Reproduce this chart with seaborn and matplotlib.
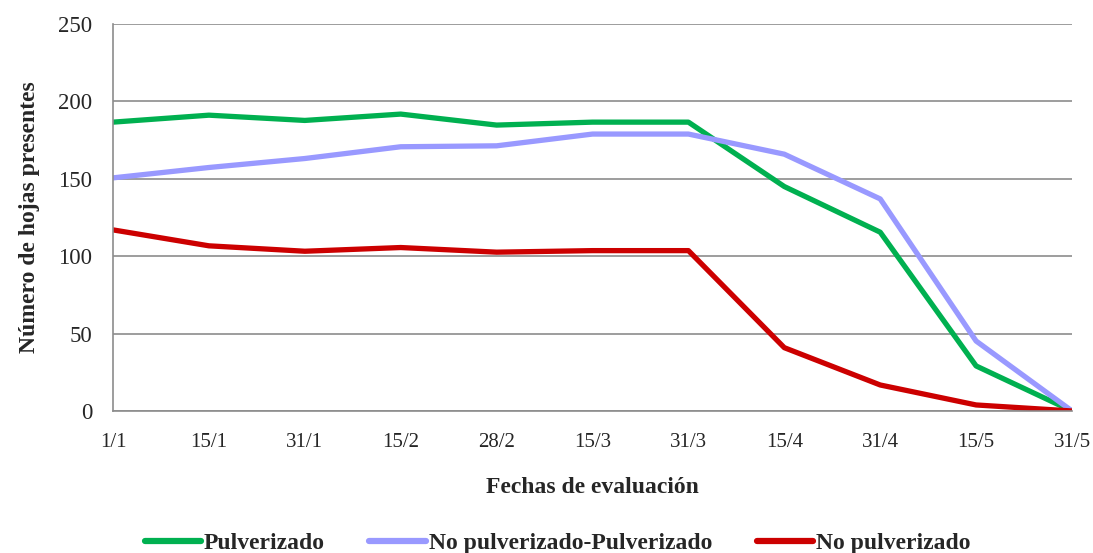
import numpy as np
import pandas as pd
import matplotlib.pyplot as plt
import seaborn as sns

# Fechas de evaluación
fechas = ['1/1', '15/1', '31/1', '15/2', '28/2', '15/3', '31/3', '15/4', '31/4', '15/5', '31/5']

# Número de hojas presentes por tratamiento
pulverizado = [186.6, 191.1, 187.7, 191.8, 184.7, 186.6, 186.6, 145.0, 115.5, 29.1, 0]
no_pulv_pulv = [150.6, 157.3, 163.1, 170.7, 171.3, 178.9, 178.9, 165.9, 137.0, 45.2, 0]
no_pulverizado = [117.0, 106.7, 103.2, 105.6, 102.6, 103.6, 103.6, 40.9, 16.8, 3.9, 0]

series = ['Pulverizado', 'No pulverizado-Pulverizado', 'No pulverizado']
colores = ['#00B050', '#9999FF', '#CC0000']

df = pd.DataFrame({
    'fecha': fechas * 3,
    'hojas': pulverizado + no_pulv_pulv + no_pulverizado,
    'serie': np.repeat(series, len(fechas)),
})

sns.set_style('white')
plt.rcParams['font.family'] = ['Liberation Serif', 'DejaVu Serif']

fig = plt.figure(figsize=(10.93, 5.53), dpi=100)
ax = fig.add_axes([0.1034, 0.2568, 0.8774, 0.6998])

sns.lineplot(data=df, x='fecha', y='hojas', hue='serie', hue_order=series,
             palette=colores, sort=False, linewidth=3.8, ax=ax, legend=False)

ax.set_xlim(0, len(fechas) - 1)
ax.set_ylim(0, 250)
ax.set_yticks(range(0, 251, 50))
ax.yaxis.grid(True, color='#8c8c8c', linewidth=1.2)
ax.set_axisbelow(True)

for s in ['top', 'right']:
    ax.spines[s].set_visible(False)
for s in ['left', 'bottom']:
    ax.spines[s].set_color('#8c8c8c')
    ax.spines[s].set_linewidth(1.2)

ax.tick_params(axis='y', direction='out', length=5, width=1.2,
               color='#8c8c8c', labelsize=16.5, pad=10)
ax.tick_params(axis='x', direction='out', length=4, width=1.2,
               color='#8c8c8c', labelsize=15, pad=12)

ax.set_xlabel('Fechas de evaluación', fontsize=17, fontweight='bold', labelpad=18)
ax.set_ylabel('Número de hojas presentes', fontsize=17, fontweight='bold', labelpad=13)

handles = [plt.Line2D([], [], color=c, linewidth=4.5) for c in colores]
fig.legend(handles, series, loc='lower center', bbox_to_anchor=(0.51, -0.04), ncol=3,
           frameon=False, handlelength=2.4, handletextpad=0.1, columnspacing=1.9,
           prop={'weight': 'bold', 'size': 17})

fig.savefig('out.png', dpi=100)
